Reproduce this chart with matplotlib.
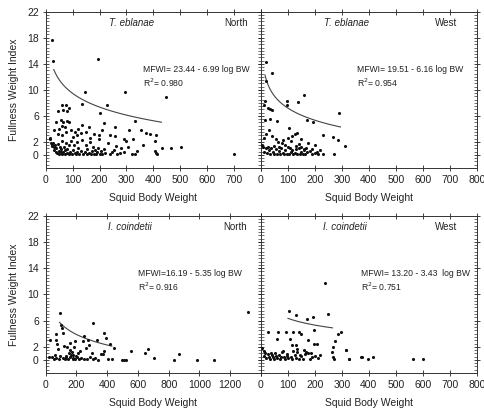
import numpy as np
import matplotlib
matplotlib.use("Agg")
import matplotlib.pyplot as plt
from matplotlib.ticker import MultipleLocator

plt.rcParams['font.family'] = ['Liberation Sans', 'DejaVu Sans']

# ---------------- data ----------------
# T. eblanae, North
te_n_x = [22, 28, 193, 145, 295, 447, 227, 134, 202, 59, 74, 47, 65, 87, 78,
          217, 332, 256, 311, 353, 371, 388, 410, 258, 197, 131, 165, 292, 300, 326,
          363, 407, 433, 467, 503, 700, 405, 410, 415,
          40, 55, 65, 80, 85, 50, 60, 72, 95, 110, 30, 45, 120, 135, 150, 160, 100,
          115, 180, 210, 240, 60, 75,
          15, 17, 20, 22, 25, 28, 30, 32, 35, 38, 40, 42, 45, 48, 50, 52, 55, 58, 60,
          62, 65, 68, 70, 72, 75, 78, 80, 85, 88, 90, 95, 98, 100, 105, 108, 112, 115,
          118, 120, 125, 130, 135, 140, 145, 148, 152, 155, 160, 165, 168, 172, 175,
          180, 185, 188, 192, 195, 198, 200, 205, 210, 215, 222, 230, 238, 245, 255,
          265, 275, 290, 320, 340, 260, 280, 305, 330]
te_n_y = [17.6, 14.5, 14.7, 9.6, 9.6, 8.9, 7.7, 7.8, 6.4, 7.6, 7.6, 6.8, 6.9, 7.2, 6.7,
          4.9, 5.2, 4.3, 3.8, 3.8, 3.4, 3.2, 3.0, 2.9, 3.0, 3.3, 2.6, 2.5, 2.1, 2.5,
          1.6, 2.2, 1.1, 1.0, 1.3, 0.2, 0.6, 0.3, 0.1,
          5.0, 5.4, 5.0, 5.2, 5.0, 4.0, 4.5, 4.3, 3.8, 3.6, 3.9, 3.2, 4.0, 4.6, 3.5, 4.3, 2.8,
          3.0, 3.2, 3.9, 3.0, 3.0, 3.5,
          2.6, 2.4, 1.9, 1.6, 1.4, 1.8, 1.2, 0.8, 1.5, 0.5, 1.0, 0.3, 1.7, 0.6, 0.2, 1.2, 0.4, 0.9, 0.1,
          2.1, 0.5, 1.3, 0.2, 0.7, 1.9, 0.3, 0.9, 0.1, 1.5, 0.4, 2.2, 0.2, 0.8, 1.6, 0.3, 0.1, 2.0,
          0.5, 1.1, 0.2, 0.6, 2.3, 0.1, 0.4, 1.5, 0.2, 0.9, 0.3, 2.0, 0.1, 0.6, 1.3,
          0.2, 0.8, 0.1, 0.4, 1.0, 2.4, 0.2, 0.6, 0.1, 0.9, 0.3, 1.8, 0.2, 0.5, 0.8,
          0.1, 0.3, 0.5, 0.2, 0.6, 1.4, 1.0, 1.2, 0.2]

# T. eblanae, West
te_w_x = [17, 41, 20, 159, 95, 138, 96, 15, 25, 35, 42, 10, 289, 169, 194, 35, 60, 15,
          104, 231, 268, 286, 311, 30, 20, 12, 42, 55, 80, 100, 115, 125, 132, 150, 175,
          200, 8, 12, 18, 22, 28, 33, 38, 45, 50, 55, 60, 65, 70, 75, 80, 85, 90, 95,
          100, 105, 110, 115, 120, 125, 130, 135, 140, 145, 150, 155, 160, 165, 170, 180,
          190, 200, 210, 220, 230, 5, 25, 48, 68, 88, 108, 128, 148, 168, 188, 208, 270,
          62, 78, 112, 142, 158]
te_w_y = [14.3, 12.6, 11.3, 9.2, 8.3, 8.2, 7.6, 8.3, 7.2, 7.0, 6.9, 7.6, 6.4, 5.3, 5.0,
          5.6, 5.2, 5.3, 4.2, 3.0, 2.7, 2.3, 1.4, 3.9, 3.2, 2.6, 2.9, 2.4, 2.3, 2.6, 2.9,
          3.2, 3.4, 2.5, 1.8, 1.6, 1.2, 0.5, 1.0, 0.3, 0.8, 0.2, 1.1, 0.4, 0.1, 0.9, 0.2,
          0.6, 0.1, 1.0, 0.3, 0.1, 0.7, 0.2, 1.2, 0.1, 0.4, 0.8, 0.1, 0.3, 0.9, 0.2, 1.1,
          0.1, 0.5, 0.2, 0.8, 0.1, 0.4, 0.6, 0.1, 0.3, 0.2, 0.7, 0.2, 1.5, 1.3, 1.4, 1.2,
          1.5, 1.1, 1.4, 1.3, 1.0, 0.9, 0.5, 0.1, 2.0, 1.8, 2.1, 1.7, 0.9]

# I. coindetii, North
ic_n_x = [93, 98, 103, 310, 382, 252, 332, 278, 393, 419, 447, 191, 115, 556, 647, 668,
          701, 832, 870, 983, 1092, 1318, 495, 510, 520, 408, 430, 372, 380,
          30, 60, 70, 75, 80, 120, 140, 150, 160, 170, 185, 200, 220, 240, 260, 280, 300,
          20, 40, 55, 65, 85, 95, 110, 125, 135, 145, 155, 165, 175, 180, 190, 205, 215,
          230, 250, 270, 290, 305, 320, 340, 360, 70, 130, 210, 160, 180]
ic_n_y = [7.1, 5.3, 4.8, 5.6, 4.1, 3.6, 3.0, 3.0, 3.4, 2.4, 1.8, 2.9, 4.1, 1.4, 1.0, 1.7,
          0.3, 0.0, 0.9, 0.0, 0.0, 7.3, 0.0, 0.0, 0.0, 0.1, 0.1, 0.9, 1.4,
          3.0, 0.8, 3.1, 2.4, 1.6, 2.1, 1.9, 1.1, 1.5, 1.2, 2.0, 0.6, 1.3, 2.9, 1.8, 2.2, 1.0,
          0.4, 0.5, 0.2, 0.3, 0.1, 0.6, 0.3, 0.2, 0.5, 0.1, 0.4, 0.7, 0.2, 0.3, 0.1, 0.5,
          0.2, 0.3, 0.1, 0.2, 0.4, 0.1, 0.3, 0.0, 0.9, 4.0, 0.6, 1.0, 2.6, 0.8]

# I. coindetii, West
ic_w_x = [237, 104, 128, 169, 194, 247, 27, 64, 92, 120, 141, 147, 195, 296, 286, 58, 107,
          175, 197, 207, 274, 115, 128, 268, 315, 80, 120, 135, 160, 168, 175, 262, 266,
          270, 326, 372, 374, 398, 414, 563, 600, 328, 316,
          5, 10, 15, 20, 25, 30, 35, 40, 45, 50, 55, 60, 65, 70, 75, 85, 90, 95, 100, 110,
          115, 125, 130, 140, 150, 155, 165, 180, 190, 200, 210, 220, 12, 38, 52, 78, 98,
          135, 145, 185]
ic_w_y = [11.7, 7.5, 6.9, 6.3, 6.6, 7.0, 4.3, 4.3, 4.3, 4.3, 4.3, 4.0, 4.6, 4.3, 4.0, 3.2,
          3.2, 3.0, 2.5, 2.5, 2.9, 2.3, 2.2, 1.9, 1.5, 1.4, 1.3, 1.6, 1.5, 1.2, 1.0, 1.2,
          0.5, 0.1, 0.1, 0.4, 0.4, 0.1, 0.5, 0.1, 0.1, 0.1, 1.5,
          1.8, 0.6, 1.0, 0.3, 0.9, 0.5, 0.2, 0.8, 0.4, 0.1, 0.6, 0.3, 0.7, 0.2, 0.5, 0.4,
          0.1, 0.6, 0.3, 0.5, 0.2, 0.8, 0.3, 0.1, 0.6, 0.2, 0.9, 0.1, 0.4, 0.6, 0.3, 0.7,
          1.3, 1.1, 1.0, 1.2, 0.9, 1.2, 0.8, 1.1]

# fitted curves: MFWI = a - b * log10(BW), over range
fits = {
    "te_n": (23.44, 6.99, 30, 430, "0.980"),
    "te_w": (19.51, 6.16, 15, 295, "0.954"),
    "ic_n": (16.19, 5.35, 90, 430, "0.916"),
    "ic_w": (13.20, 3.43, 100, 265, "0.751"),
}
eq_text = {
    "te_n": "MFWI= 23.44 - 6.99 log BW",
    "te_w": "MFWI= 19.51 - 6.16 log BW",
    "ic_n": "MFWI=16.19 - 5.35 log BW",
    "ic_w": "MFWI= 13.20 - 3.43  log BW",
}

y_ticks = [0, 2, 6, 10, 14, 18, 22]
x_ticks_800 = [0, 100, 200, 300, 400, 500, 600, 700, 800]
x_ticks_1400 = [0, 200, 400, 600, 800, 1000, 1200, 1400]

# ---------------- figure ----------------
fig = plt.figure(figsize=(4.85, 4.09), dpi=100)
W, H = 485, 409

def ax_at(x0, x1, ytop, ybot):
    return fig.add_axes([x0 / W, 1 - ybot / H, (x1 - x0) / W, (ybot - ytop) / H])

axes = {
    "te_n": ax_at(45.7, 261.0, 11.7, 168.0),
    "te_w": ax_at(261.0, 476.7, 11.7, 168.0),
    "ic_n": ax_at(45.7, 261.0, 215.7, 373.0),
    "ic_w": ax_at(261.0, 476.7, 215.7, 373.0),
}
data = {
    "te_n": (te_n_x, te_n_y, 800, x_ticks_800, "T. eblanae", "North", 750, 360),
    "te_w": (te_w_x, te_w_y, 800, x_ticks_800, "T. eblanae", "West", 728, 355),
    "ic_n": (ic_n_x, ic_n_y, 1400, x_ticks_1400, "I. coindetii", "North", 1309, 603),
    "ic_w": (ic_w_x, ic_w_y, 800, x_ticks_800, "I. coindetii", "West", 728, 371),
}
sp_x = {"te_n": 320, "te_w": 318, "ic_n": 549, "ic_w": 312}

txt_col = "#222222"
for key, ax in axes.items():
    xs, ys, xmax, xt, species, region, reg_x, eq_x = data[key]
    ax.scatter(xs, ys, s=5, color="#111111", linewidths=0, zorder=3)
    a, b, x0, x1, r2 = fits[key]
    xc = np.linspace(x0, x1, 100)
    ax.plot(xc, a - b * np.log10(xc), color="#444444", lw=0.8)
    ax.set_xlim(0, xmax)
    ax.set_ylim(-2, 22)
    left_panel = key in ("te_n", "ic_n")
    ax.set_xticks(xt)
    ax.set_xticklabels([str(v) if (not left_panel or v != xmax) else "" for v in xt])
    ax.set_yticks(y_ticks)
    ax.yaxis.set_minor_locator(MultipleLocator(0.5))
    ax.tick_params(axis="both", which="major", direction="inout", length=5, width=0.6,
                   labelsize=7.5, colors=txt_col, top=True, right=True, pad=2.5)
    ax.tick_params(axis="y", which="minor", direction="in", length=2, width=0.4,
                   left=True, right=True)
    for s in ax.spines.values():
        s.set_linewidth(0.7)
        s.set_color("#333333")
    ax.text(sp_x[key], 20.2, species, style="italic", ha="center", va="center",
            fontsize=7, color=txt_col)
    ax.text(reg_x, 20.2, region, ha="right", va="center", fontsize=7, color=txt_col)
    ax.text(eq_x, 13.2, eq_text[key], ha="left", va="center", fontsize=6.2, color=txt_col)
    ax.text(eq_x, 11.1, "R$^2$= " + r2, ha="left", va="center", fontsize=6.2, color=txt_col)
    ax.set_xlabel("Squid Body Weight", fontsize=7.5, color=txt_col, labelpad=6)
    if not left_panel:
        ax.tick_params(axis="y", labelleft=False)
    else:
        ax.set_ylabel("Fullness Weight Index", fontsize=7.5, color=txt_col, labelpad=6)

fig.savefig("out.png", dpi=100)
